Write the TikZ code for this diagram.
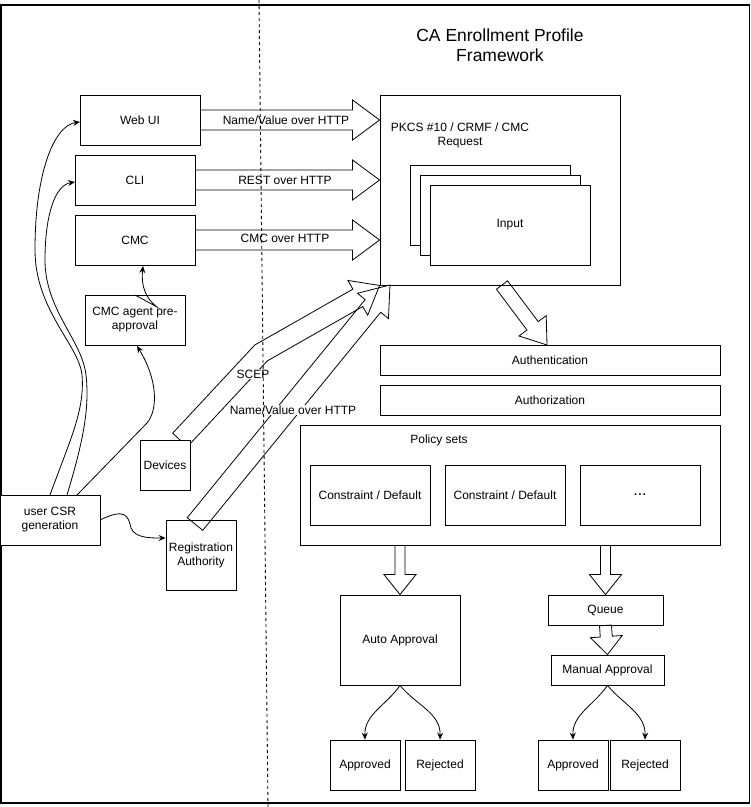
\documentclass[tikz,border=0pt]{standalone}
\usepackage{fontspec}
\setmainfont{Liberation Sans}
\usetikzlibrary{calc,arrows.meta}
\tikzset{
 box/.style={draw=black, fill=white, line width=0.9pt, inner sep=0pt, align=center, font=\fontsize{12}{14}\selectfont},
 lbl/.style={inner sep=1pt, align=center, font=\fontsize{12}{14}\selectfont},
 blk/.style={draw=black, line width=0.8pt},
 thinarrow/.style={draw=black, line width=0.8pt, -{Stealth[length=7pt,width=6pt,inset=2.5pt]}},
}
\newcommand\barrow[5]{%
 \coordinate (bac) at ($(#2)!#5!(#1)$);
 \draw[blk] ($(#1)!#3!90:(#2)$) -- ($(bac)!#3!90:(#2)$) -- ($(bac)!#4!90:(#2)$) -- (#2) -- ($(bac)!#4!-90:(#2)$) -- ($(bac)!#3!-90:(#2)$) -- ($(#1)!#3!-90:(#2)$) -- cycle;}
\begin{document}
\begin{tikzpicture}[x=1pt,y=-1pt]
\useasboundingbox (0,0) rectangle (751,807);
\draw[line width=1.5pt] (1,5) rectangle (749.5,803);
\node[lbl, font=\fontsize{17.5}{20}\selectfont] (title) at (500,45) {CA Enrollment Profile\\Framework};
% left boxes
\node[box, minimum width=120pt, minimum height=50pt] (webui) at (140,120) {Web UI};
\node[box, minimum width=120pt, minimum height=50pt] (cli) at (135,180) {CLI};
\node[box, minimum width=120pt, minimum height=50pt] (cmc) at (135,240) {CMC};
\node[box, minimum width=100pt, minimum height=50pt] (cmcagent) at (135,320) {CMC agent pre-\\approval};
\node[box, minimum width=100pt, minimum height=50pt] (usercsr) at (50,520) {user CSR\\generation};
\node[box, minimum width=70pt, minimum height=70pt] (ra) at (201,555) {Registration\\Authority};
% request box
\node[box, minimum width=240pt, minimum height=190pt] (req) at (500,190) {};
\node[lbl] (reqtxt) at (460,135) {PKCS \#10 / CRMF / CMC\\Request};
\node[box, minimum width=160pt, minimum height=80pt] (in1) at (490,205) {};
\node[box, minimum width=160pt, minimum height=80pt] (in2) at (500,215) {};
\node[box, minimum width=160pt, minimum height=80pt] (in3) at (510,225) {Input};
% right side
\node[box, minimum width=340pt, minimum height=30pt] (auth) at (550,360) {Authentication};
\node[box, minimum width=340pt, minimum height=30pt] (authz) at (550,400) {Authorization};
\node[box, minimum width=420pt, minimum height=120pt] (policy) at (510,485) {};
\node[lbl] (ptxt) at (439,440) {Policy sets};
\node[box, minimum width=120pt, minimum height=60pt] (c1) at (370,495) {Constraint / Default};
\node[box, minimum width=120pt, minimum height=60pt] (c2) at (505,495) {Constraint / Default};
\node[box, minimum width=120pt, minimum height=60pt, font=\fontsize{16}{18}\selectfont] (c3) at (640,495) {...};
\node[box, minimum width=120pt, minimum height=90pt] (auto) at (400,640) {Auto Approval};
\node[box, minimum width=115pt, minimum height=30pt] (queue) at (605.5,610) {Queue};
\node[box, minimum width=113pt, minimum height=30pt] (manual) at (607.5,670) {Manual Approval};
\node[box, minimum width=70pt, minimum height=50pt] (app1) at (365,765) {Approved};
\node[box, minimum width=70pt, minimum height=50pt] (rej1) at (440,765) {Rejected};
\node[box, minimum width=70pt, minimum height=50pt] (app2) at (573,765) {Approved};
\node[box, minimum width=70pt, minimum height=50pt] (rej2) at (645,765) {Rejected};
% horizontal block arrows
\coordinate (t1) at (req.west |- webui.east);
\coordinate (t2) at (req.west |- cli.east);
\coordinate (t3) at (req.west |- cmc.east);
\barrow{webui.east}{t1}{10pt}{20pt}{27pt}
\barrow{cli.east}{t2}{10pt}{20pt}{27pt}
\barrow{cmc.east}{t3}{10pt}{20pt}{27pt}
\node[lbl] (l1) at (286,120) {Name/Value over HTTP};
\node[lbl] (l2) at (285,180) {REST over HTTP};
\node[lbl] (l3) at (285,238) {CMC over HTTP};
% SCEP bent block arrow
\coordinate (sA) at (180,440);
\coordinate (sM) at (261,353);
\coordinate (sB) at (req.south west);
\coordinate (sC) at ($(sB)!25pt!(sM)$);
\coordinate (sa1) at ($(sA)!10pt!90:(sM)$);
\coordinate (sm1) at ($(sM)!10pt!-90:(sA)$);
\coordinate (sm2) at ($(sM)!10pt!90:(sC)$);
\coordinate (sc1) at ($(sC)!10pt!-90:(sM)$);
\coordinate (sa2) at ($(sA)!10pt!-90:(sM)$);
\coordinate (sm3) at ($(sM)!10pt!90:(sA)$);
\coordinate (sm4) at ($(sM)!10pt!-90:(sC)$);
\coordinate (sc2) at ($(sC)!10pt!90:(sM)$);
\coordinate (sk1) at (intersection of sa1--sm1 and sm2--sc1);
\coordinate (sk2) at (intersection of sa2--sm3 and sm4--sc2);
\coordinate (sh1) at ($(sC)!20pt!-90:(sM)$);
\coordinate (sh2) at ($(sC)!20pt!90:(sM)$);
\draw[blk] (sa1) -- (sk1) -- (sc1) -- (sh1) -- (sB) -- (sh2) -- (sc2) -- (sk2) -- (sa2) -- cycle;
\node[box, minimum width=50pt, minimum height=50pt] (devices) at (165,465) {Devices};
% Name/Value diagonal
\coordinate (nA) at (195,524);
\coordinate (nB) at (390,285);
\barrow{nA}{nB}{10pt}{20pt}{27pt}
\node[lbl, fill=white] (lscep) at (253,374) {SCEP};
\node[lbl, fill=white] (lnv) at (293,410) {Name/Value over HTTP};
% auth arrow
\coordinate (aA) at (502,285);
\coordinate (aB) at (547,345);
\barrow{aA}{aB}{7pt}{17pt}{24pt}
% vertical arrows
\coordinate (p1) at (policy.south -| auto.north);
\coordinate (p2) at (policy.south -| queue.north);
\barrow{p1}{auto.north}{5pt}{16pt}{20pt}
\barrow{p2}{queue.north}{5pt}{16pt}{20pt}
\barrow{queue.south}{manual.north}{6pt}{16pt}{18pt}
% thin curved arrows
\coordinate (u1) at (50,495);
\coordinate (u2) at (67,495);
\coordinate (u3) at (77,495);
\coordinate (w1) at (80,122);
\coordinate (w2) at (75,182);
\draw[thinarrow] (u1) .. controls (70,440) and (85,410) .. (82,375) .. controls (79,345) and (35,310) .. (35,250) .. controls (35,170) and (55,125) .. (w1);
\draw[thinarrow] (u2) .. controls (82,445) and (90,410) .. (86,375) .. controls (82,340) and (45,310) .. (45,260) .. controls (45,215) and (55,185) .. (w2);
\coordinate (k1) at (147,423);
\coordinate (k2) at (137,346);
\draw[thinarrow] (u3) -- (k1) .. controls (158,410) and (158,380) .. (k2);
\coordinate (g1) at (135,295);
\coordinate (g2) at (157,307);
\coordinate (g3) at (143,266);
\draw[thinarrow] (g1) -- (g2) .. controls (145,298) and (141,285) .. (g3);
\coordinate (r1) at (100,520);
\coordinate (r2) at (ra.west |- 0,538);
\draw[thinarrow] (r1) .. controls (125,508) and (128,515) .. (131,528) .. controls (135,538) and (150,538) .. (r2);
\draw[thinarrow] (auto.south) to[out=-125,in=92] (app1.north);
\draw[thinarrow] (auto.south) to[out=-50,in=88] (rej1.north);
\draw[thinarrow] (manual.south) to[out=-125,in=92] (app2.north);
\draw[thinarrow] (manual.south) to[out=-50,in=88] (rej2.north);
% dashed divider
\coordinate (dtop) at (259,0);
\coordinate (dbot) at (268,807);
\draw[line width=0.9pt, dash pattern=on 3pt off 3pt] (dtop) -- (dbot);
\end{tikzpicture}
\end{document}
